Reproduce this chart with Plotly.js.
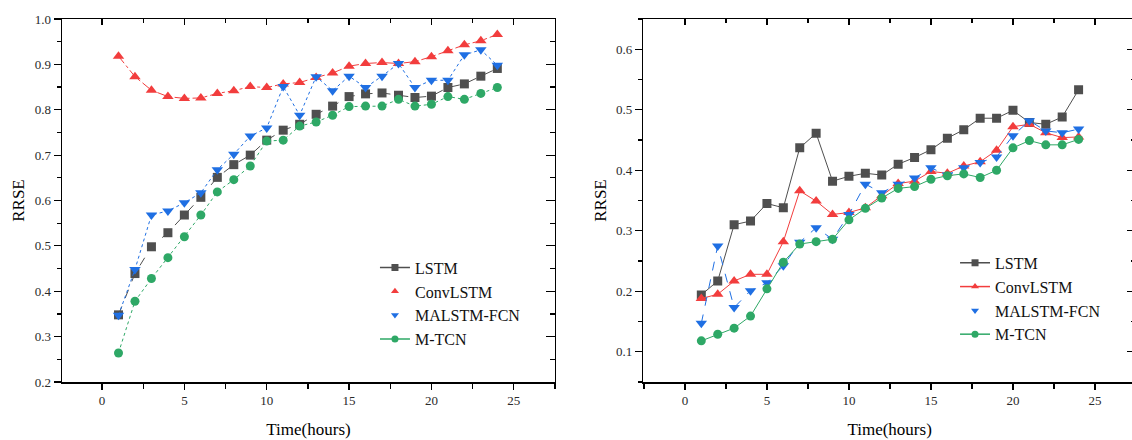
<!DOCTYPE html>
<html>
<head>
<meta charset="utf-8">
<script src="https://cdn.plot.ly/plotly-3.0.1.min.js"></script>
<style>
html,body{margin:0;padding:0;overflow:hidden;background:#fff;}
#chart{width:1140px;height:440px;}
</style>
</head>
<body>
<div id="chart"></div>
<script>
// ---------- data ----------
const hours = [1,2,3,4,5,6,7,8,9,10,11,12,13,14,15,16,17,18,19,20,21,22,23,24];

// Left panel
const leftLSTM     = [0.348,0.439,0.498,0.529,0.568,0.607,0.651,0.679,0.700,0.733,0.755,0.768,0.790,0.808,0.829,0.835,0.837,0.832,0.827,0.830,0.849,0.857,0.874,0.891];
const leftConvLSTM = [0.918,0.873,0.843,0.829,0.825,0.826,0.836,0.842,0.851,0.849,0.857,0.860,0.871,0.881,0.896,0.902,0.904,0.902,0.906,0.917,0.930,0.943,0.952,0.966];
const leftMALSTM   = [0.347,0.448,0.568,0.577,0.595,0.617,0.668,0.702,0.742,0.760,0.851,0.788,0.873,0.842,0.874,0.849,0.874,0.902,0.849,0.865,0.865,0.921,0.932,0.898];
const leftMTCN     = [0.264,0.378,0.428,0.474,0.520,0.568,0.619,0.646,0.676,0.731,0.733,0.764,0.773,0.788,0.807,0.808,0.808,0.823,0.808,0.812,0.829,0.823,0.836,0.849];

// Right panel
const rightLSTM     = [0.194,0.217,0.310,0.316,0.345,0.338,0.437,0.461,0.382,0.390,0.395,0.392,0.410,0.421,0.434,0.453,0.467,0.486,0.486,0.499,0.479,0.476,0.488,0.533];
const rightConvLSTM = [0.188,0.195,0.217,0.228,0.228,0.282,0.366,0.349,0.327,0.330,0.338,0.358,0.378,0.382,0.398,0.395,0.407,0.414,0.433,0.472,0.476,0.462,0.454,0.455];
const rightMALSTM   = [0.147,0.275,0.173,0.201,0.214,0.242,0.281,0.305,0.286,0.327,0.377,0.363,0.377,0.387,0.404,0.392,0.404,0.413,0.422,0.457,0.482,0.465,0.462,0.468];
const rightMTCN     = [0.118,0.129,0.139,0.159,0.204,0.248,0.278,0.282,0.286,0.318,0.337,0.354,0.370,0.373,0.385,0.391,0.394,0.388,0.400,0.437,0.449,0.442,0.442,0.451];

const seriesNames = ['LSTM','ConvLSTM','MALSTM-FCN','M-TCN'];
const xTickVals = [0,5,10,15,20,25];

// ---------- styles ----------
const colors  = ['#4f4f4f','#f23d3d','#1f6fe3','#2ea866'];
const symbols = ['square','triangle-up','triangle-down','circle'];
const sizes   = [9,10,10,9];
const leftDash  = ['dash','dashdot','dot','dot'];
const rightDash = ['solid','solid','dash','solid'];
const leftLegendLine  = [true,false,false,true];
const rightLegendLine = [true,true,false,true];

const FONT = '"Liberation Serif", serif';

const leftData  = [leftLSTM,leftConvLSTM,leftMALSTM,leftMTCN];
const rightData = [rightLSTM,rightConvLSTM,rightMALSTM,rightMTCN];

const traces = [];
leftData.forEach((ys,i)=>{
  traces.push({x:hours,y:ys,xaxis:'x',yaxis:'y',mode:'lines+markers',showlegend:false,
    line:{color:colors[i],width:1,dash:leftDash[i]},
    marker:{symbol:symbols[i],size:sizes[i],color:colors[i]}});
});
rightData.forEach((ys,i)=>{
  traces.push({x:hours,y:ys,xaxis:'x2',yaxis:'y2',mode:'lines+markers',showlegend:false,
    line:{color:colors[i],width:1,dash:rightDash[i]},
    marker:{symbol:symbols[i],size:sizes[i],color:colors[i]}});
});
// empty helper traces so that the mirrored (inward) tick axes are drawn
[['x3','y'],['x','y3'],['x4','y2'],['x2','y4']].forEach(p=>{
  traces.push({x:[null],y:[null],xaxis:p[0],yaxis:p[1],mode:'markers',showlegend:false,hoverinfo:'skip'});
});
// legend entries
seriesNames.forEach((n,i)=>{
  traces.push({x:[null],y:[null],xaxis:'x',yaxis:'y',name:n,legend:'legend',
    mode:leftLegendLine[i]?'lines+markers':'markers',
    line:{color:colors[i],width:1.5},marker:{symbol:symbols[i],size:7,color:colors[i]}});
});
seriesNames.forEach((n,i)=>{
  traces.push({x:[null],y:[null],xaxis:'x2',yaxis:'y2',name:n,legend:'legend2',
    mode:rightLegendLine[i]?'lines+markers':'markers',
    line:{color:colors[i],width:1.5},marker:{symbol:symbols[i],size:7,color:colors[i]}});
});

const tickFont = {family:FONT,size:13,color:'#2a2a2a'};
const titleFont = {family:FONT,size:17,color:'#000'};

function xMain(domain, range, anchor){
  return {domain:domain,range:range,anchor:anchor,showgrid:false,zeroline:false,
    showline:true,linecolor:'#000',linewidth:1.5,mirror:true,
    ticks:'outside',ticklen:6,tickwidth:1.2,tickcolor:'#000',
    tickmode:'array',tickvals:xTickVals,tickfont:tickFont,
    minor:{dtick:2.5,tick0:0,ticks:'outside',ticklen:5,tickwidth:1.2,tickcolor:'#000',showgrid:false},
    title:{text:'Time(hours)',font:titleFont,standoff:16}};
}
function xTop(range, overlay, anchor){
  return {overlaying:overlay,anchor:anchor,side:'top',range:range,showgrid:false,zeroline:false,
    showline:false,showticklabels:false,ticks:'inside',ticklen:6,tickwidth:1.2,tickcolor:'#000',
    tickmode:'array',tickvals:xTickVals,
    minor:{dtick:2.5,tick0:0,ticks:'inside',ticklen:4,tickwidth:1.2,tickcolor:'#000',showgrid:false}};
}
function yMain(range, anchor){
  return {domain:[0,1],range:range,anchor:anchor,showgrid:false,zeroline:false,
    showline:true,linecolor:'#000',linewidth:1.5,mirror:true,
    ticks:'outside',ticklen:7,tickwidth:1.2,tickcolor:'#000',
    tick0:0,dtick:0.1,tickformat:'.1f',tickfont:tickFont,
    minor:{dtick:0.05,tick0:0,ticks:'outside',ticklen:4,tickwidth:1.2,tickcolor:'#000',showgrid:false},
    title:{text:'RRSE',font:titleFont,standoff:5}};
}
function yRight(range, overlay, anchor){
  return {overlaying:overlay,anchor:anchor,side:'right',range:range,showgrid:false,zeroline:false,
    showline:false,showticklabels:false,ticks:'inside',ticklen:9,tickwidth:1.2,tickcolor:'#000',
    tick0:0,dtick:0.1,
    minor:{dtick:0.05,tick0:0,ticks:'inside',ticklen:5,tickwidth:1.2,tickcolor:'#000',showgrid:false}};
}

const leftXR = [-2.43,27.5], rightXR = [-2.54,27.5];
const leftYR = [0.2,1.0],   rightYR = [0.05,0.65];

const layout = {
  width:1140,height:440,
  margin:{l:62,r:4,t:19,b:58},
  paper_bgcolor:'#fff',plot_bgcolor:'#fff',
  font:{family:FONT,color:'#000'},
  xaxis: xMain([0,0.459],leftXR,'y'),
  yaxis: yMain(leftYR,'x'),
  xaxis2: xMain([0.5412,1],rightXR,'y2'),
  yaxis2: yMain(rightYR,'x2'),
  xaxis3: xTop(leftXR,'x','y'),
  xaxis4: xTop(rightXR,'x2','y2'),
  yaxis3: yRight(leftYR,'y','x'),
  yaxis4: yRight(rightYR,'y2','x2'),
  legend:{x:0.2914,y:0.362,xanchor:'left',yanchor:'top',
    bgcolor:'rgba(0,0,0,0)',font:{family:FONT,size:16,color:'#111'},tracegroupgap:0},
  legend2:{x:0.8315,y:0.375,xanchor:'left',yanchor:'top',
    bgcolor:'rgba(0,0,0,0)',font:{family:FONT,size:16,color:'#111'},tracegroupgap:0},
  showlegend:true
};

Plotly.newPlot('chart',traces,layout,{displayModeBar:false,staticPlot:true});
</script>
</body>
</html>
